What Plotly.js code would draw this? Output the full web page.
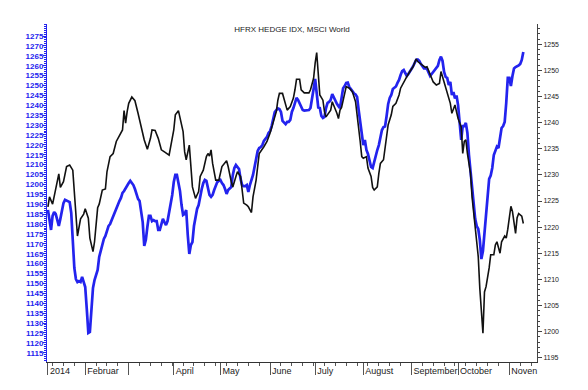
<!DOCTYPE html>
<html>
<head>
<meta charset="utf-8">
<script src="https://cdn.plot.ly/plotly-3.0.1.min.js"></script>
<style>html,body{margin:0;padding:0;background:#fff;}#chart{width:588px;height:390px;}</style>
</head>
<body>
<div id="chart"></div>
<script>
const YEAR = '2014';

// HFRX HEDGE IDX (black, right axis)
const hfrxDates = [
'01-10','01-11','01-13','01-15','01-17','01-18','01-20','01-22','01-24','01-26','01-27','01-29','01-31',
'02-02','02-03','02-05','02-06','02-08','02-09','02-11','02-12','02-14','02-16','02-17','02-19','02-21','02-23','02-25','02-27','02-28',
'03-01','03-02','03-03','03-05','03-07','03-09','03-11','03-13','03-15','03-17','03-18','03-20','03-22','03-24','03-26','03-29',
'04-01','04-02','04-04','04-05','04-07','04-08','04-09','04-11','04-12','04-13','04-15','04-17','04-18','04-20','04-22','04-23','04-24','04-25','04-26','04-28','04-30',
'05-02','05-05','05-06','05-08','05-09','05-11','05-12','05-14','05-15','05-16','05-18','05-19','05-21','05-22','05-24','05-26','05-29','05-31',
'06-02','06-04','06-06','06-07','06-08','06-10','06-12','06-13','06-15','06-17','06-18','06-19','06-21','06-22','06-24','06-27','06-28','06-30',
'07-01','07-02','07-03','07-04','07-06','07-07','07-08','07-11','07-12','07-14','07-15','07-16','07-17','07-18','07-20','07-21','07-23','07-25','07-27','07-28','07-29','07-30','07-31',
'08-01','08-03','08-04','08-06','08-07','08-08','08-10','08-11','08-12','08-14','08-16','08-17','08-19','08-20','08-22','08-24','08-25','08-27','08-29','08-31',
'09-02','09-04','09-05','09-08','09-10','09-11','09-13','09-15','09-17','09-19','09-20','09-21','09-23','09-24','09-26','09-27','09-29','09-30',
'10-01','10-03','10-04','10-05','10-06','10-07','10-09','10-10','10-12','10-14','10-15','10-16','10-17','10-18','10-19','10-21','10-22','10-24','10-25','10-26','10-28','10-29','10-31',
'11-01','11-02','11-04','11-05','11-07','11-08','11-09','11-11','11-12'
];
const hfrxValues = [
1223.9,1225.8,1224.4,1227.5,1230.2,1227.6,1228.7,1231.6,1231.9,1230.9,1227.1,1218.3,1221.6,
1222.5,1223.5,1221.7,1217.9,1215.3,1217.2,1223.7,1224.4,1227.1,1227.3,1230.6,1233.5,1234.1,1236.4,1237.4,1238.6,1242.3,
1239.9,1242.1,1243.7,1244.9,1244.2,1241.8,1239.4,1236.7,1234.9,1237.0,1238.6,1238.5,1237.0,1234.8,1234.4,1233.8,
1238.6,1241.5,1242.3,1241.1,1238.3,1234.4,1232.9,1235.7,1231.6,1227.7,1225.5,1226.8,1229.7,1230.9,1233.5,1234.1,1233.6,1234.8,1232.2,1229.0,1229.0,
1231.6,1232.7,1231.6,1228.7,1227.7,1229.7,1230.6,1229.7,1227.1,1224.6,1224.2,1223.9,1222.8,1225.8,1229.0,1234.1,1235.4,1236.4,
1238.0,1239.9,1242.1,1244.3,1245.6,1245.6,1243.7,1242.4,1243.1,1244.7,1246.3,1248.3,1248.3,1246.3,1245.7,1245.7,1246.3,1248.5,
1251.4,1253.4,1249.4,1245.3,1244.3,1242.1,1241.1,1242.4,1244.0,1242.7,1241.8,1240.8,1242.4,1242.9,1245.3,1246.9,1246.6,1245.9,1244.0,1241.8,1239.6,1236.4,1233.5,
1233.2,1233.5,1231.3,1229.7,1227.6,1227.1,1227.7,1230.3,1232.2,1232.9,1237.0,1239.6,1241.5,1243.1,1243.7,1245.3,1246.6,1247.8,1248.8,1249.8,
1250.7,1252.2,1251.7,1251.0,1250.6,1250.7,1249.4,1247.8,1247.2,1247.5,1249.8,1248.8,1246.6,1245.6,1243.7,1241.8,1243.4,1242.1,
1240.8,1239.2,1234.1,1236.4,1236.7,1234.1,1230.3,1225.8,1220.1,1214.3,1208.2,1203.5,1199.7,1207.6,1208.6,1212.2,1214.7,1214.7,1216.6,1217.2,1215.0,1217.2,1218.3,
1217.9,1219.6,1224.0,1223.0,1218.8,1221.8,1222.6,1222.1,1220.7
];

// MSCI World (blue, left axis)
const msciDates = [
'01-10','01-11','01-12','01-13','01-14','01-15','01-17','01-18','01-20','01-21','01-23','01-24','01-25','01-26','01-27','01-28','01-29','01-30','01-31',
'02-01','02-02','02-03','02-04','02-05','02-06','02-07','02-08','02-09','02-10','02-11','02-12','02-13','02-14','02-15','02-16','02-17','02-18','02-19','02-20','02-21','02-22','02-23','02-24','02-25','02-26','02-27','02-28',
'03-01','03-02','03-03','03-04','03-05','03-06','03-07','03-08','03-09','03-10','03-11','03-12','03-13','03-14','03-15','03-16','03-17','03-18','03-19','03-20','03-21','03-22','03-23','03-24','03-25','03-26','03-27','03-28','03-29','03-30','03-31',
'04-01','04-02','04-03','04-04','04-05','04-06','04-07','04-08','04-09','04-10','04-11','04-12','04-13','04-14','04-15','04-16','04-17','04-18','04-19','04-20','04-21','04-22','04-23','04-24','04-25','04-26','04-27','04-28','04-29','04-30',
'05-01','05-02','05-03','05-04','05-05','05-06','05-07','05-08','05-09','05-10','05-11','05-12','05-13','05-14','05-15','05-16','05-17','05-18','05-19','05-20','05-21','05-22','05-23','05-24','05-25','05-26','05-27','05-28','05-29','05-30','05-31',
'06-01','06-02','06-03','06-04','06-05','06-06','06-07','06-08','06-09','06-10','06-11','06-12','06-13','06-14','06-15','06-16','06-17','06-18','06-19','06-20','06-21','06-22','06-23','06-24','06-25','06-26','06-27','06-28','06-29','06-30',
'07-01','07-02','07-03','07-04','07-05','07-06','07-07','07-08','07-09','07-10','07-11','07-12','07-13','07-14','07-15','07-16','07-17','07-18','07-19','07-20','07-21','07-22','07-23','07-24','07-25','07-26','07-27','07-28','07-29','07-30','07-31',
'08-01','08-02','08-03','08-04','08-05','08-06','08-07','08-08','08-09','08-10','08-11','08-12','08-13','08-14','08-15','08-16','08-17','08-18','08-19','08-20','08-21','08-22','08-23','08-24','08-25','08-26','08-27','08-28','08-29','08-30','08-31',
'09-01','09-02','09-03','09-04','09-05','09-06','09-07','09-08','09-09','09-10','09-11','09-12','09-13','09-14','09-15','09-16','09-17','09-18','09-19','09-20','09-21','09-22','09-23','09-24','09-25','09-26','09-27','09-28','09-29','09-30',
'10-01','10-02','10-03','10-04','10-05','10-06','10-07','10-08','10-09','10-10','10-11','10-12','10-13','10-14','10-15','10-16','10-17','10-18','10-19','10-20','10-21','10-22','10-23','10-24','10-25','10-26','10-27','10-28','10-29','10-30','10-31',
'11-01','11-02','11-03','11-04','11-05','11-06','11-07','11-08','11-09','11-10','11-11','11-12'
];
const msciValues = [
1187.1,1182.0,1177.0,1184.1,1186.1,1185.1,1179.0,1182.6,1190.6,1192.2,1191.6,1191.1,1185.6,1173.0,1157.8,1152.2,1150.7,1151.2,1150.7,
1153.3,1150.2,1148.2,1137.1,1125.0,1125.5,1135.6,1147.7,1151.7,1154.3,1156.8,1163.4,1166.9,1170.4,1172.5,1174.0,1176.5,1179.0,1180.0,1182.0,1184.6,1186.1,1187.6,1189.6,1191.6,1193.2,1195.7,1196.7,
1198.2,1199.2,1200.7,1201.8,1201.0,1199.7,1197.7,1194.7,1192.7,1191.6,1186.6,1181.0,1168.9,1171.9,1178.5,1184.1,1184.1,1181.5,1182.0,1181.5,1181.5,1177.0,1177.0,1180.5,1182.6,1181.0,1179.5,1181.5,1185.6,1189.6,1194.7,
1201.2,1204.8,1204.8,1200.7,1196.7,1189.6,1184.6,1185.1,1187.1,1174.5,1164.9,1169.4,1170.9,1179.0,1184.1,1187.6,1189.6,1194.2,1197.7,1200.7,1202.3,1201.8,1197.7,1194.7,1193.7,1194.7,1197.2,1199.7,1201.2,1201.8,
1202.3,1200.7,1199.7,1197.7,1195.2,1197.2,1198.2,1198.7,1204.8,1208.3,1209.8,1208.8,1207.8,1202.8,1199.7,1199.2,1199.2,1199.7,1196.2,1199.7,1202.3,1204.8,1208.8,1212.9,1216.9,1218.4,1218.9,1219.9,1222.0,1223.0,1224.0,
1226.0,1227.0,1229.5,1233.6,1236.6,1237.6,1238.4,1238.1,1236.6,1232.1,1231.1,1230.5,1231.6,1231.6,1232.6,1236.6,1238.6,1241.2,1243.7,1242.7,1240.7,1239.1,1237.6,1237.3,1237.3,1237.3,1237.6,1238.6,1242.7,1248.2,
1253.3,1245.2,1238.9,1238.6,1234.6,1233.6,1234.1,1238.6,1241.2,1241.7,1242.7,1245.7,1243.7,1242.7,1240.7,1239.6,1238.6,1243.7,1248.6,1249.7,1251.3,1251.5,1249.2,1248.2,1246.7,1246.0,1245.5,1244.2,1237.6,1232.1,1224.0,
1219.9,1222.5,1217.4,1215.4,1212.4,1208.8,1208.3,1211.9,1215.4,1217.4,1219.9,1223.2,1227.5,1229.0,1229.3,1234.6,1240.7,1243.7,1245.2,1248.2,1248.7,1249.5,1251.3,1252.8,1255.3,1257.3,1257.8,1256.3,1254.8,1255.8,1256.8,
1258.3,1259.6,1261.4,1262.9,1263.1,1262.4,1260.9,1259.9,1258.7,1258.8,1258.3,1256.6,1254.8,1255.8,1256.8,1257.6,1258.3,1259.9,1262.9,1264.6,1262.4,1256.8,1254.3,1253.8,1250.2,1251.8,1245.2,1246.7,1243.5,1244.9,
1240.1,1232.6,1222.5,1229.5,1229.5,1231.1,1226.0,1214.9,1207.3,1198.2,1188.6,1182.6,1179.0,1177.5,1171.9,1162.3,1166.4,1175.5,1182.6,1193.7,1202.8,1204.5,1208.3,1214.9,1217.4,1219.1,1218.4,1224.0,1228.5,1229.5,1231.6,
1241.2,1253.8,1253.8,1249.7,1254.8,1258.6,1259.3,1259.6,1260.1,1260.9,1262.9,1266.9
];

// Month tick marks on the time axis
const monthTickDates = ['01-10','02-03','03-03','04-01','05-01','06-02','07-01','08-01','09-01','10-01','11-03'];
const monthTickLabels = ['2014','Februar','','April','May','June','July','August','September','October','Noven'];

// Labelled values on the left (MSCI World) axis
const msciTickValues = [1115,1120,1125,1130,1135,1140,1145,1150,1155,1160,1165,1170,1175,1180,1185,1190,1195,
  1200,1205,1210,1215,1220,1225,1230,1235,1240,1245,1250,1255,1260,1265,1270,1275];

const toDate = d => YEAR + '-' + d;
const FONT = 'Liberation Sans, Arial, sans-serif';
const BLUE = '#2323ee';

const traces = [
  {x: hfrxDates.map(toDate), y: hfrxValues, type: 'scatter', mode: 'lines', yaxis: 'y2',
   line: {color: '#111111', width: 1.6}, name: 'HFRX HEDGE IDX', hoverinfo: 'skip'},
  {x: msciDates.map(toDate), y: msciValues, type: 'scatter', mode: 'lines', yaxis: 'y',
   line: {color: BLUE, width: 2.7}, name: 'MSCI World', hoverinfo: 'skip'}
];

const layout = {
  width: 588, height: 390,
  margin: {l: 47, r: 51, t: 24, b: 28, pad: 0},
  paper_bgcolor: '#ffffff', plot_bgcolor: '#ffffff',
  showlegend: false,
  title: {text: 'HFRX HEDGE IDX, MSCI World',
          font: {family: FONT, size: 8, color: '#222'},
          x: 0.5, xref: 'paper', xanchor: 'center',
          y: 1 - 29 / 390, yref: 'container', yanchor: 'middle'},
  xaxis: {type: 'date', range: ['2014-01-09 09:36', '2014-11-20 19:12'],
          tickmode: 'array', tickvals: monthTickDates.map(toDate), ticktext: monthTickLabels,
          tickangle: 0,
          ticks: 'outside', ticklen: 12, tickwidth: 1, tickcolor: '#555',
          ticklabelposition: 'outside right', ticklabelstandoff: 0, ticklabelshift: 1,
          tickfont: {family: FONT, size: 9, color: '#222'},
          showline: true, linecolor: '#333', linewidth: 1,
          showgrid: false, zeroline: false, fixedrange: true,
          minor: {dtick: 7 * 86400000, tick0: '2014-01-06', ticks: 'outside', ticklen: 3, tickcolor: '#555', showgrid: false}},
  yaxis: {range: [1110.3, 1281.06], tickmode: 'array', tickvals: msciTickValues,
          ticks: 'outside', ticklen: 3, tickcolor: BLUE, tickwidth: 1,
          ticklabelstandoff: -2,
          showline: true, linecolor: BLUE, linewidth: 1,
          tickfont: {family: FONT, size: 8, color: BLUE, weight: 'bold'},
          showgrid: false, zeroline: false, fixedrange: true,
          minor: {dtick: 1, tick0: 1115, ticks: 'outside', ticklen: 2, tickcolor: BLUE, showgrid: false}},
  yaxis2: {overlaying: 'y', side: 'right', anchor: 'x', range: [1194.18, 1258.89],
           tickmode: 'linear', tick0: 1195, dtick: 5,
           ticks: 'outside', ticklen: 4, tickcolor: '#444', tickwidth: 1,
           showline: true, linecolor: '#444', linewidth: 1,
           tickfont: {family: FONT, size: 7, color: '#222'},
           showgrid: false, zeroline: false, fixedrange: true,
           minor: {dtick: 1, ticks: 'outside', ticklen: 2, tickcolor: '#444', showgrid: false}}
};

Plotly.newPlot('chart', traces, layout, {displayModeBar: false, staticPlot: true});
</script>
</body>
</html>
